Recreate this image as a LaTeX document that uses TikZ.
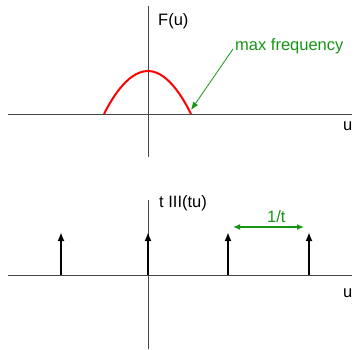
\documentclass[tikz,border=0pt]{standalone}
\usepackage{fontspec}
\setmainfont{Liberation Sans}
\usetikzlibrary{arrows.meta}
\definecolor{lblgreen}{RGB}{20,150,20}
\definecolor{axgray}{RGB}{70,70,70}
\begin{document}
\begin{tikzpicture}[x=1pt,y=-1pt,
  axis/.style={draw=axgray,line width=1pt},
  lbl/.style={inner sep=0pt,anchor=base west,font=\fontsize{16.5}{18}\selectfont},
  impulse/.style={draw=black,line width=2pt,-{Latex[length=9pt,width=7pt]}},
  note/.style={draw=lblgreen,line width=0.8pt,-{Latex[length=8pt,width=6pt]}},
  span/.style={draw=lblgreen,line width=1.5pt,{Latex[length=7pt,width=6pt]}-{Latex[length=7pt,width=6pt]}}]
\useasboundingbox (0,0) rectangle (357,349);
% top axes
\coordinate (tl) at (8,114); \coordinate (tr) at (352,114);
\coordinate (tt) at (148,6); \coordinate (tb) at (148,157);
\draw[axis] (tl) -- (tr);
\draw[axis] (tt) -- (tb);
\node[lbl] (fu) at (158,25) {F(u)};
\node[lbl] (u1) at (343,130) {u};
\node[lbl,text=lblgreen] (maxf) at (235,50) {max frequency};
% red curve
\coordinate (c0) at (104,114); \coordinate (cp) at (148,71); \coordinate (c1) at (191,114);
\draw[red,line width=2pt] (c0) parabola bend (cp) (c1);
\coordinate (ms) at (233,49); \coordinate (me) at (191,110);
\draw[note] (ms) -- (me);
% bottom axes
\coordinate (bl) at (8,275); \coordinate (br) at (352,275);
\coordinate (bt) at (148,200); \coordinate (bb) at (148,349);
\draw[axis] (bl) -- (br);
\draw[axis] (bt) -- (bb);
\node[lbl] (tiii) at (159,207) {t III(tu)};
\node[lbl] (u2) at (343,297) {u};
\foreach \i/\x in {a/61,b/148,c/228,d/309}{
  \coordinate (i\i0) at (\x,275); \coordinate (i\i1) at (\x,232);
  \draw[impulse] (i\i0) -- (i\i1);
}
\coordinate (sl) at (233,227); \coordinate (sr) at (304,227);
\draw[span] (sl) -- (sr);
\node[lbl,text=lblgreen] (inv) at (267,222) {1/t};
\end{tikzpicture}
\end{document}
